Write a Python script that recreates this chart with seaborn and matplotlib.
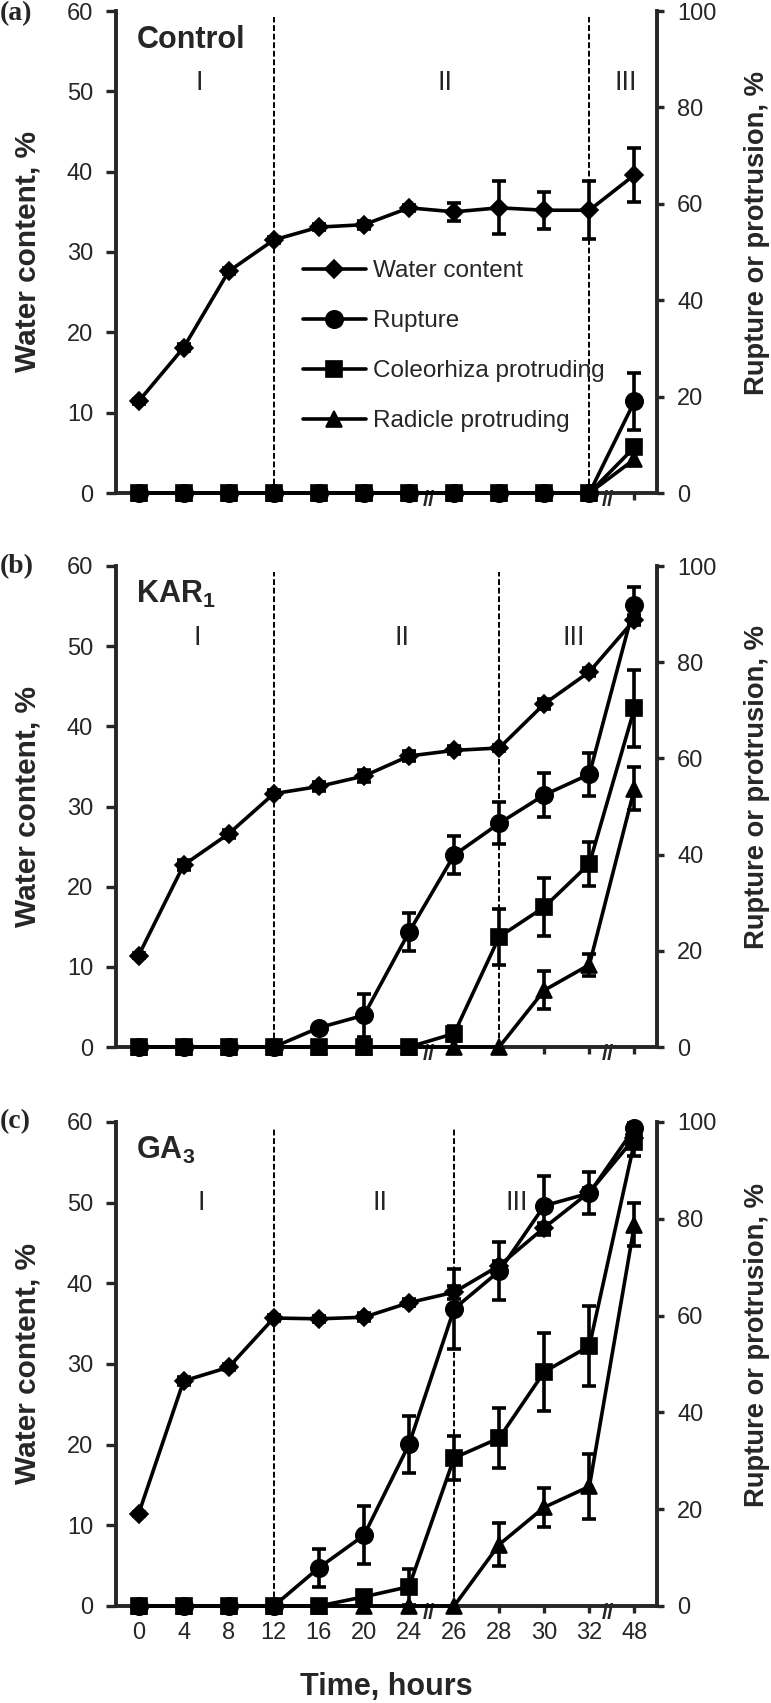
import numpy as np
import pandas as pd
import matplotlib
matplotlib.use("Agg")
import matplotlib.pyplot as plt
import seaborn as sns

# ---------------- data ----------------
hour_labels = ["0", "4", "8", "12", "16", "20", "24", "26", "28", "30", "32", "48"]

# Control
wc_ctrl      = [11.4, 18.1, 27.6, 31.5, 33.1, 33.4, 35.5, 35.0, 35.5, 35.2, 35.2, 39.6]
wc_ctrl_err  = [0.3, 0.4, 0.4, 0.4, 0.4, 0.5, 0.4, 1.1, 3.3, 2.3, 3.6, 3.4]
rup_ctrl     = [0, 0, 0, 0, 0, 0, 0, 0, 0, 0, 0, 19.0]
rup_ctrl_err = [0, 0, 0, 0, 0, 0, 0, 0, 0, 0, 0, 6.0]
col_ctrl     = [0, 0, 0, 0, 0, 0, 0, 0, 0, 0, 0, 9.5]
col_ctrl_err = [0, 0, 0, 0, 0, 0, 0, 0, 0, 0, 0, 0]
rad_ctrl     = [0, 0, 0, 0, 0, 0, 0, 0, 0, 0, 0, 7.0]
rad_ctrl_err = [0, 0, 0, 0, 0, 0, 0, 0, 0, 0, 0, 0]

# KAR1
wc_kar      = [11.4, 22.7, 26.6, 31.6, 32.5, 33.8, 36.3, 37.0, 37.3, 42.8, 46.8, 53.3]
wc_kar_err  = [0.3, 0.6, 0.5, 0.4, 0.6, 0.7, 0.6, 0.5, 0.4, 0.6, 0.5, 0.6]
rup_kar     = [0, 0, 0, 0, 4.0, 6.6, 23.9, 39.9, 46.5, 52.4, 56.7, 91.9]
rup_kar_err = [0, 0, 0, 0, 0, 4.5, 3.9, 3.9, 4.4, 4.5, 4.5, 3.8]
col_kar     = [0, 0, 0, 0, 0, 0, 0, 2.8, 22.9, 29.1, 38.1, 70.4]
col_kar_err = [0, 0, 0, 0, 0, 0, 0, 1.5, 5.8, 6.0, 4.6, 8.0]
rad_kar     = [0, 0, 0, 0, 0, 0, 0, 0, 0, 11.8, 17.1, 53.7]
rad_kar_err = [0, 0, 0, 0, 0, 0, 0, 0, 0, 3.9, 2.3, 4.5]

# GA3
wc_ga      = [11.4, 27.9, 29.6, 35.7, 35.6, 35.8, 37.6, 38.9, 42.2, 46.9, 51.3, 58.0]
wc_ga_err  = [0.3, 0.5, 0.4, 0.4, 0.4, 0.5, 0.4, 0.8, 0.6, 0.6, 0.5, 0.6]
rup_ga     = [0, 0, 0, 0, 7.9, 14.6, 33.4, 61.4, 69.2, 82.7, 85.3, 98.7]
rup_ga_err = [0, 0, 0, 0, 3.9, 6.0, 5.9, 8.3, 6.0, 6.1, 4.4, 1.0]
col_ga     = [0, 0, 0, 0, 0, 1.9, 4.0, 30.6, 34.7, 48.4, 53.7, 95.9]
col_ga_err = [0, 0, 0, 0, 0, 1.0, 3.7, 4.5, 6.2, 8.1, 8.2, 3.0]
rad_ga     = [0, 0, 0, 0, 0, 0, 0, 0, 12.7, 20.4, 24.7, 78.8]
rad_ga_err = [0, 0, 0, 0, 0, 0, 0, 0, 4.5, 4.0, 6.8, 4.4]

# phase boundaries (hour labels) and names
dashed_ctrl = ["12", "32"]
dashed_kar = ["12", "28"]
dashed_ga = ["12", "26"]
series_names = ["Water content", "Rupture", "Coleorhiza protruding", "Radicle protruding"]
stage_names = ["I", "II", "III"]

# ---------------- style ----------------
sns.set_style("ticks")
plt.rcParams["font.family"] = ["Liberation Sans", "DejaVu Sans"]
plt.rcParams["mathtext.fontset"] = "custom"
plt.rcParams["mathtext.rm"] = "Liberation Sans"
plt.rcParams["mathtext.bf"] = "Liberation Sans:bold"

W, H = 771, 1703
fig = plt.figure(figsize=(W / 100, H / 100), dpi=100)

pos = np.arange(len(hour_labels))
LW = 2.6


def px_rect(left, top, right, bottom):
    return [left / W, 1 - bottom / H, (right - left) / W, (bottom - top) / H]


def draw_series(ax, values, errs, marker, ms):
    df = pd.DataFrame({"pos": pos, "val": values})
    sns.lineplot(data=df, x="pos", y="val", ax=ax, color="black", marker=marker,
                 markersize=ms, markeredgecolor="black", markeredgewidth=1.2,
                 linewidth=LW, clip_on=False, zorder=3, legend=False)
    line = ax.lines[-1]
    e = np.asarray(errs, dtype=float)
    v = np.asarray(values, dtype=float)
    m = e > 0
    if m.any():
        ax.errorbar(pos[m], v[m], yerr=e[m], fmt="none", ecolor="black",
                    elinewidth=LW, capsize=5, capthick=LW, clip_on=False, zorder=2)
    return line


def draw_panel(rect, data, dashed, stage_x, stage_y, title, letter, letter_y,
               show_xlabels, legend):
    wc, wce, ru, rue, co, coe, ra, rae = data
    ax = fig.add_axes(rect)
    ax2 = ax.twinx()
    h_wc = draw_series(ax, wc, wce, "D", 9.0)
    h_ra = draw_series(ax2, ra, rae, "^", 12)
    h_co = draw_series(ax2, co, coe, "s", 12)
    h_ru = draw_series(ax2, ru, rue, "o", 12.5)

    ax.set_xlim(-0.5, len(hour_labels) - 0.5)
    ax.set_ylim(0, 60)
    ax2.set_ylim(0, 100)
    ax.set_yticks([0, 10, 20, 30, 40, 50, 60])
    ax2.set_yticks([0, 20, 40, 60, 80, 100])
    ax.set_xticks(pos)
    ax.set_xticklabels(hour_labels if show_xlabels else [])
    ax.set_xlabel("")
    ax.set_ylabel("Water content, %", fontsize=21.5, fontweight="bold")
    ax2.set_ylabel("Rupture or protrusion, %", fontsize=19.7, fontweight="bold")
    ax.yaxis.set_label_coords(-0.137, 0.5)
    ax2.yaxis.set_label_coords(1.16, 0.54)

    for s in ["top", "right"]:
        ax.spines[s].set_visible(False)
    for s in ["top", "left", "bottom"]:
        ax2.spines[s].set_visible(False)
    ax.spines["left"].set_linewidth(2.8)
    ax.spines["bottom"].set_linewidth(2.8)
    ax2.spines["right"].set_linewidth(2.8)

    ax.tick_params(axis="y", direction="out", length=7, width=2.4, labelsize=17, pad=9.5)
    ax.tick_params(axis="x", direction="out", length=5, width=2.4, labelsize=17, pad=6.5)
    ax2.tick_params(axis="y", direction="out", length=5, width=2.4, labelsize=17, pad=9.5)

    for d in dashed:
        xd = hour_labels.index(d)
        ax.plot([xd, xd], [0, 59.3], color="black", lw=1.4, ls=(0, (3, 1.4)), zorder=1)

    for sx, name in zip(stage_x, stage_names):
        ax.text(sx, stage_y, name, fontsize=19.5, ha="center", va="center")

    ax.text(-0.05, 55.4, title, fontsize=22, fontweight="bold", ha="left", va="baseline")

    for bx in [6.43, 10.42]:
        ax.text(bx, -0.9, "//", fontsize=16, fontweight="bold", ha="center", va="center",
                clip_on=False, zorder=6)

    fig.text(0.0, 1 - letter_y / H, letter, fontsize=20, fontweight="bold",
             family=["Liberation Serif", "DejaVu Serif"], ha="left", va="center")

    if legend:
        ax2.legend([h_wc, h_ru, h_co, h_ra], series_names, loc="upper left",
                   bbox_to_anchor=(0.345, 0.483), frameon=False, fontsize=17.5,
                   handlelength=2.6, handletextpad=0.3, labelspacing=1.15,
                   borderpad=0, borderaxespad=0, numpoints=1)
    return ax, ax2


draw_panel(px_rect(116, 11, 657, 493),
           (wc_ctrl, wc_ctrl_err, rup_ctrl, rup_ctrl_err, col_ctrl, col_ctrl_err, rad_ctrl, rad_ctrl_err),
           dashed_ctrl, [1.35, 6.8, 10.8], 51, "Control", "(a)", 14, False, True)
draw_panel(px_rect(116, 566, 657, 1047),
           (wc_kar, wc_kar_err, rup_kar, rup_kar_err, col_kar, col_kar_err, rad_kar, rad_kar_err),
           dashed_kar, [1.3, 5.85, 9.65], 51, r"KAR$_\mathbf{1}$", "(b)", 567, False, False)
draw_panel(px_rect(116, 1122, 657, 1606),
           (wc_ga, wc_ga_err, rup_ga, rup_ga_err, col_ga, col_ga_err, rad_ga, rad_ga_err),
           dashed_ga, [1.4, 5.35, 8.4], 50, r"GA$_\mathbf{3}$", "(c)", 1122, True, False)

fig.text(386.5 / W, 1 - 1687 / H, "Time, hours", fontsize=22, fontweight="bold",
         ha="center", va="center")

fig.savefig("out.png", dpi=100)
